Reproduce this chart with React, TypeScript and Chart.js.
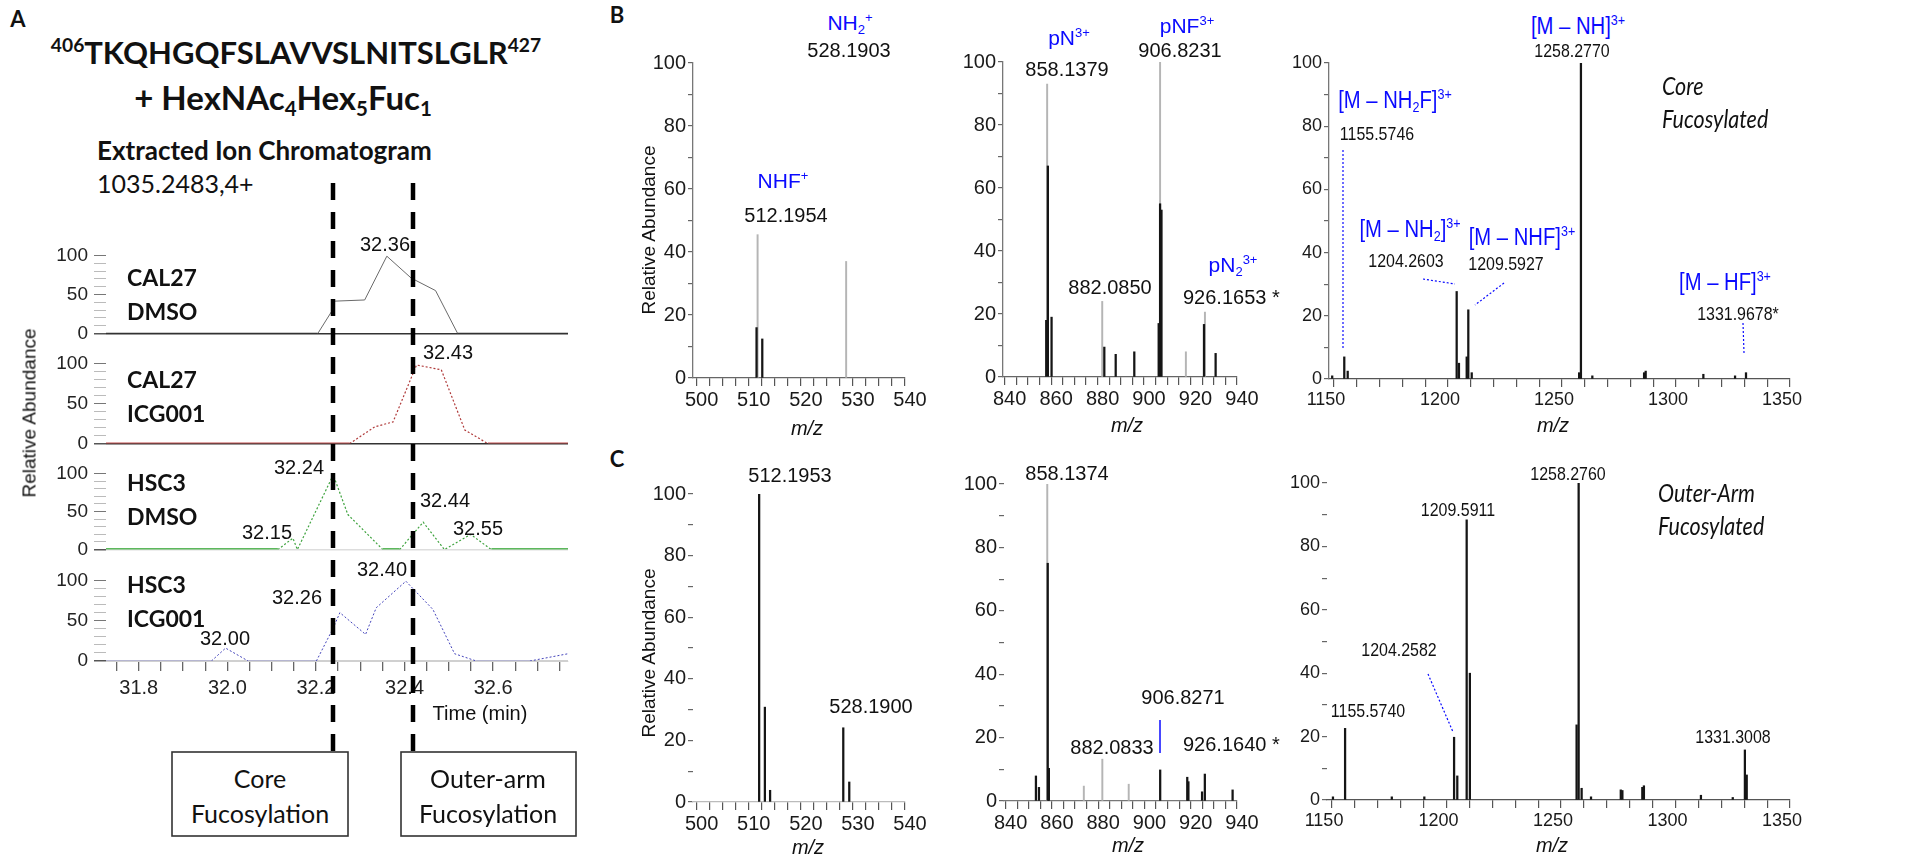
import React, { useEffect, useRef } from 'react';
import { Chart, registerables } from 'chart.js';

Chart.register(...registerables);

const SANS = '"Liberation Sans", Arial, Helvetica, sans-serif';
const CAL = 'Lato, "Open Sans", sans-serif';
const BLUE = '#0a0aff';

// ---------------- Panel A: extracted ion chromatograms ----------------
const timeAxisMin = 31.726;
const timeAxisMax = 32.769;
const timeTickLabels = ['31.8', '32.0', '32.2', '32.4', '32.6'];
const chromYLabels = [0, 50, 100];

const cal27DmsoTime = [31.726, 32.204, 32.235, 32.242, 32.31, 32.36, 32.415, 32.47, 32.52, 32.769];
const cal27DmsoAbund = [0, 0, 28, 41.5, 43, 99, 71, 55, 0, 0];

const cal27IcgTime = [31.726, 32.276, 32.333, 32.374, 32.427, 32.483, 32.536, 32.588, 32.769];
const cal27IcgAbund = [0, 0, 21, 27, 98, 92, 17, 0, 0];

const hsc3DmsoTime = [31.726, 32.114, 32.148, 32.158, 32.239, 32.272, 32.351, 32.389, 32.442, 32.49, 32.549, 32.596, 32.769];
const hsc3DmsoAbund = [0, 0, 15, 0, 98, 46, 0, 0, 36, 0, 20, 0, 0];

const hsc3IcgTime = [31.726, 31.964, 31.996, 32.047, 32.201, 32.239, 32.254, 32.312, 32.336, 32.403, 32.464, 32.513, 32.562, 32.683, 32.769];
const hsc3IcgAbund = [0, 0, 16, 0, 0, 41, 60, 33, 66, 99, 64, 9, 0, 0, 9];

// ---------------- Panels B / C: MS/MS spectra ----------------
const specYLabels = [0, 20, 40, 60, 80, 100];
const lowMzTicks = [500, 510, 520, 530, 540];
const midMzTicks = [840, 860, 880, 900, 920, 940];
const highMzTicks = [1150, 1200, 1250, 1300, 1350];

// B, 500-540 (core fucosylated)
const b1GrayMz = [511.7, 528.7];
const b1GrayAb = [45.5, 37];
const b1BlackMz = [511.5, 512.6];
const b1BlackAb = [16, 12.4];

// B, 840-940
const b2GrayMz = [858.3, 882.0, 906.9, 918.0, 926.2];
const b2GrayAb = [93, 24, 100, 8, 20.6];
const b2BlackMz = [858.6, 857.9, 860.2, 882.9, 887.8, 895.8, 906.9, 907.5, 906.3, 925.8, 930.8];
const b2BlackAb = [67, 18, 19, 9.5, 7.2, 8, 55, 53, 17, 16.7, 7.5];

// B, 1150-1350
const b3GrayMz: number[] = [];
const b3GrayAb: number[] = [];
const b3BlackMz = [1149.2, 1154.5, 1156.0, 1203.8, 1204.8, 1208.2, 1208.9, 1210.4, 1258.3, 1257.5, 1263.3, 1286.0, 1286.7, 1312.0, 1325.9, 1330.7];
const b3BlackAb = [1, 7, 2.5, 27.7, 5, 7, 21.9, 2, 100, 2, 1, 2, 2.5, 1.5, 1, 2];

// C, 500-540 (outer-arm fucosylated)
const c1GrayMz: number[] = [];
const c1GrayAb: number[] = [];
const c1BlackMz = [512.0, 513.1, 514.1, 528.15, 529.3];
const c1BlackAb = [100, 30.8, 3.8, 24.1, 6.5];

// C, 840-940
const c2GrayMz = [858.0, 873.8, 881.8, 893.2];
const c2GrayAb = [100, 4.7, 13.2, 5.3];
const c2BlackMz = [858.2, 858.7, 853.1, 854.4, 906.8, 918.5, 919.0, 924.9, 926.1, 938.1];
const c2BlackAb = [75, 10.3, 7.9, 4.3, 9.8, 7.5, 6.1, 2.9, 8.5, 3.5];

// C, 1150-1350
const c3GrayMz: number[] = [];
const c3GrayAb: number[] = [];
const c3BlackMz = [1150.4, 1155.7, 1176.1, 1190.3, 1203.3, 1204.7, 1208.8, 1210.2, 1256.8, 1257.7, 1259.0, 1263.1, 1276.1, 1276.8, 1285.5, 1286.2, 1311.1, 1325.0, 1330.3, 1331.1];
const c3BlackAb = [1, 22.6, 1, 1, 19.8, 7.6, 88.4, 40, 23.7, 100, 3.7, 1, 3.2, 3, 4, 4.5, 1.5, 0.8, 15.8, 7.9];

// ---------------- layout helpers ----------------
type Area = { left: number; top: number; right: number; bottom: number };
type Box = { left: number; top: number; width: number; height: number };

const CH_YW = 106, CH_PT = 14, CH_PR = 20, CH_PB = 14, CH_XH = 45;
const SP_YW = 60, SP_PT = 14, SP_PR = 34, SP_XH = 40;

function chromBox(a: Area, showX: boolean): Box {
  return {
    left: a.left - CH_YW,
    top: a.top - CH_PT,
    width: a.right - a.left + CH_YW + CH_PR,
    height: CH_PT + (a.bottom - a.top) + (showX ? CH_XH : CH_PB),
  };
}
function specBox(a: Area): Box {
  return {
    left: a.left - SP_YW,
    top: a.top - SP_PT,
    width: a.right - a.left + SP_YW + SP_PR,
    height: SP_PT + (a.bottom - a.top) + SP_XH,
  };
}

type TraceStyle = { color: string; width: number; dash: number[]; flatColor: string; flatWidth: number; base: string };

function chromConfig(times: number[], vals: number[], st: TraceStyle, showX: boolean): any {
  const flat = (c: any) => c.p0.parsed.y === 0 && c.p1.parsed.y === 0;
  return {
    type: 'line',
    data: {
      datasets: [
        {
          data: times.map((t, i) => ({ x: t, y: vals[i] })),
          borderColor: st.color,
          borderWidth: st.width,
          borderDash: st.dash,
          pointRadius: 0,
          tension: 0,
          fill: false,
          segment: {
            borderColor: (c: any) => (flat(c) ? st.flatColor : st.color),
            borderWidth: (c: any) => (flat(c) ? st.flatWidth : st.width),
            borderDash: (c: any) => (flat(c) ? [] : st.dash),
          },
        },
      ],
    },
    options: {
      responsive: false,
      animation: false,
      events: [],
      layout: { padding: { left: 0, right: CH_PR, top: CH_PT, bottom: showX ? 0 : CH_PB } },
      plugins: { legend: { display: false }, tooltip: { enabled: false } },
      scales: {
        x: {
          type: 'linear',
          min: timeAxisMin,
          max: timeAxisMax,
          display: showX,
          offset: false,
          border: { display: true, color: st.base, width: 1 },
          grid: { offset: false, drawOnChartArea: false, drawTicks: true, tickLength: 10, tickColor: '#666', lineWidth: 1.3 },
          ticks: {
            stepSize: 0.05,
            autoSkip: false,
            maxRotation: 0,
            includeBounds: false,
            maxTicksLimit: 1000,
            padding: 5,
            color: '#222',
            font: { size: 20, family: SANS },
            callback: (v: number) => {
              const s = v.toFixed(1);
              return Math.round(v * 20) % 4 === 0 && timeTickLabels.includes(s) ? s : '';
            },
          },
          afterFit: (s: any) => {
            if (showX) s.height = CH_XH;
          },
        },
        y: {
          min: 0,
          max: 100,
          border: { display: false },
          grid: {
            color: (c: any) => (c.tick && c.tick.value === 0 ? st.base : 'rgba(0,0,0,0)'),
            lineWidth: (c: any) => (c.tick && c.tick.value === 0 ? 1.5 : 1),
            tickLength: 12,
            tickColor: (c: any) => (c.tick && c.tick.value === 0 ? '#555' : c.tick && c.tick.value % 50 === 0 ? '#777' : '#bbb'),
          },
          ticks: {
            stepSize: 10,
            autoSkip: false,
            maxTicksLimit: 1000,
            padding: 6,
            color: '#222',
            font: { size: 19, family: SANS },
            callback: (v: number) => (chromYLabels.includes(v) ? String(v) : ''),
          },
          afterFit: (s: any) => {
            s.width = CH_YW;
          },
        },
      },
    },
  };
}

type SpecSpec = {
  xMin: number;
  xMax: number;
  step: number;
  labels: number[];
  labelOffset: number;
  fontSize: number;
  grayMz: number[];
  grayAb: number[];
  blackMz: number[];
  blackAb: number[];
  yBorder: boolean;
  xBorder: string;
};

function specConfig(s: SpecSpec): any {
  return {
    type: 'bar',
    data: {
      datasets: [
        {
          data: s.grayMz.map((x, i) => ({ x, y: s.grayAb[i] })),
          backgroundColor: '#b5b5b5',
          barThickness: 1.3,
          grouped: false,
          order: 2,
        },
        {
          data: s.blackMz.map((x, i) => ({ x, y: s.blackAb[i] })),
          backgroundColor: '#151515',
          barThickness: 1.6,
          grouped: false,
          order: 1,
        },
      ],
    },
    options: {
      responsive: false,
      animation: false,
      events: [],
      layout: { padding: { left: 0, right: SP_PR, top: SP_PT, bottom: 0 } },
      plugins: { legend: { display: false }, tooltip: { enabled: false } },
      scales: {
        x: {
          type: 'linear',
          min: s.xMin,
          max: s.xMax,
          offset: false,
          border: { display: true, color: s.xBorder, width: 1.3 },
          grid: { offset: false, drawOnChartArea: false, drawTicks: true, tickLength: 8, tickColor: '#555', lineWidth: 1.2 },
          ticks: {
            stepSize: s.step,
            autoSkip: false,
            maxRotation: 0,
            includeBounds: false,
            maxTicksLimit: 1000,
            padding: 2,
            labelOffset: s.labelOffset,
            color: '#1a1a1a',
            font: { size: s.fontSize, family: SANS },
            callback: (v: number) => {
              const r = Math.round(v * 10) / 10;
              return s.labels.includes(r) ? String(r) : '';
            },
          },
          afterFit: (sc: any) => {
            sc.height = SP_XH;
          },
        },
        y: {
          min: 0,
          max: 100,
          border: { display: s.yBorder, color: '#777', width: 1.3 },
          grid: { drawOnChartArea: false, drawTicks: true, tickLength: 5, tickColor: '#666', lineWidth: 1.2 },
          ticks: {
            stepSize: 10,
            autoSkip: false,
            maxTicksLimit: 1000,
            padding: 2,
            color: '#1a1a1a',
            font: { size: s.fontSize, family: SANS },
            callback: (v: number) => (specYLabels.includes(v) ? String(v) : ''),
          },
          afterFit: (sc: any) => {
            sc.width = SP_YW;
          },
        },
      },
    },
  };
}

function ChartCanvas({ box, make }: { box: Box; make: () => any }) {
  const ref = useRef<HTMLCanvasElement>(null);
  useEffect(() => {
    const chart = new Chart(ref.current as HTMLCanvasElement, make());
    return () => chart.destroy();
  }, []);
  return (
    <canvas
      ref={ref}
      width={box.width}
      height={box.height}
      style={{ position: 'absolute', left: box.left, top: box.top, width: box.width, height: box.height }}
    />
  );
}

// ---------------- text helpers ----------------
function T(props: {
  x: number;
  y: number;
  size: number;
  children: any;
  bold?: boolean;
  italic?: boolean;
  color?: string;
  family?: string;
  align?: 'left' | 'center' | 'right';
  rotate?: boolean;
  sx?: number;
}) {
  const { x, y, size, children, bold, italic, color = '#111', family = SANS, align = 'center', rotate, sx } = props;
  const tx = align === 'center' ? '-50%' : align === 'right' ? '-100%' : '0';
  const origin = align === 'left' ? 'left center' : align === 'right' ? 'right center' : 'center center';
  return (
    <div
      style={{
        position: 'absolute',
        left: x,
        top: y,
        transform: `translate(${tx}, -50%)${rotate ? ' rotate(-90deg)' : ''}${sx ? ` scaleX(${sx})` : ''}`,
        transformOrigin: origin,
        fontSize: size,
        fontWeight: bold ? 700 : 400,
        fontStyle: italic ? 'italic' : 'normal',
        color,
        fontFamily: family,
        lineHeight: 1,
        whiteSpace: 'nowrap',
      }}
    >
      {children}
    </div>
  );
}
const Sup = ({ children }: { children: any }) => (
  <span style={{ fontSize: '0.62em', position: 'relative', top: '-0.6em' }}>{children}</span>
);
const Sub = ({ children }: { children: any }) => (
  <span style={{ fontSize: '0.62em', position: 'relative', top: '0.3em' }}>{children}</span>
);

// ---------------- chart areas ----------------
const aP1: Area = { left: 106, right: 568, top: 252, bottom: 337 };
const aP2: Area = { left: 106, right: 568, top: 360, bottom: 447 };
const aP3: Area = { left: 106, right: 568, top: 470, bottom: 553 };
const aP4: Area = { left: 106, right: 568, top: 577, bottom: 661 };

const aB1: Area = { left: 693, right: 905, top: 63, bottom: 378 };
const aB2: Area = { left: 1003, right: 1237, top: 62, bottom: 377 };
const aB3: Area = { left: 1329, right: 1790, top: 63, bottom: 379 };
const aC1: Area = { left: 693, right: 905, top: 494, bottom: 802 };
const aC2: Area = { left: 1004, right: 1237, top: 484, bottom: 801 };
const aC3: Area = { left: 1327, right: 1790, top: 483, bottom: 800 };

const styleP1: TraceStyle = { color: '#6a6a6a', width: 1, dash: [], flatColor: '#333', flatWidth: 1.5, base: '#333' };
const styleP2: TraceStyle = { color: '#b03a3a', width: 1.2, dash: [2, 2], flatColor: '#c24f4f', flatWidth: 2, base: '#333' };
const styleP3: TraceStyle = { color: '#3fa33f', width: 1.2, dash: [2, 2], flatColor: '#5cb85c', flatWidth: 3, base: '#ddd' };
const styleP4: TraceStyle = { color: '#4444bb', width: 1, dash: [2, 2], flatColor: 'rgba(110,110,210,0.55)', flatWidth: 1, base: '#d0d0d0' };

const lowRange = { xMin: 499.3, xMax: 540, step: 2.5, labels: lowMzTicks, labelOffset: 5, fontSize: 20 };
const midRange = { xMin: 839.3, xMax: 940, step: 5, labels: midMzTicks, labelOffset: 5, fontSize: 20 };
const highRange = { xMin: 1147.8, xMax: 1350, step: 10, labels: highMzTicks, labelOffset: -8, fontSize: 18 };

const NSX = 0.84; // horizontal compression of the right-hand spectra's texts
const BSX = 0.88;

export default function App() {
  useEffect(() => {
    document.body.style.margin = '0';
  }, []);

  const dotted = { stroke: BLUE, strokeWidth: 1.2, strokeDasharray: '2 2', fill: 'none' };

  return (
    <div style={{ position: 'absolute', left: 0, top: 0, width: 1927, height: 860, background: '#fff', overflow: 'hidden' }}>
      {/* Panel A charts */}
      <ChartCanvas box={chromBox(aP1, false)} make={() => chromConfig(cal27DmsoTime, cal27DmsoAbund, styleP1, false)} />
      <ChartCanvas box={chromBox(aP2, false)} make={() => chromConfig(cal27IcgTime, cal27IcgAbund, styleP2, false)} />
      <ChartCanvas box={chromBox(aP3, false)} make={() => chromConfig(hsc3DmsoTime, hsc3DmsoAbund, styleP3, false)} />
      <ChartCanvas box={chromBox(aP4, true)} make={() => chromConfig(hsc3IcgTime, hsc3IcgAbund, styleP4, true)} />

      {/* Panel B / C spectra */}
      <ChartCanvas box={specBox(aB1)} make={() => specConfig({ ...lowRange, grayMz: b1GrayMz, grayAb: b1GrayAb, blackMz: b1BlackMz, blackAb: b1BlackAb, yBorder: true, xBorder: '#666' })} />
      <ChartCanvas box={specBox(aB2)} make={() => specConfig({ ...midRange, grayMz: b2GrayMz, grayAb: b2GrayAb, blackMz: b2BlackMz, blackAb: b2BlackAb, yBorder: true, xBorder: '#666' })} />
      <ChartCanvas box={specBox(aB3)} make={() => specConfig({ ...highRange, grayMz: b3GrayMz, grayAb: b3GrayAb, blackMz: b3BlackMz, blackAb: b3BlackAb, yBorder: true, xBorder: '#555' })} />
      <ChartCanvas box={specBox(aC1)} make={() => specConfig({ ...lowRange, grayMz: c1GrayMz, grayAb: c1GrayAb, blackMz: c1BlackMz, blackAb: c1BlackAb, yBorder: false, xBorder: '#bbb' })} />
      <ChartCanvas box={specBox(aC2)} make={() => specConfig({ ...midRange, grayMz: c2GrayMz, grayAb: c2GrayAb, blackMz: c2BlackMz, blackAb: c2BlackAb, yBorder: false, xBorder: '#777' })} />
      <ChartCanvas box={specBox(aC3)} make={() => specConfig({ ...highRange, grayMz: c3GrayMz, grayAb: c3GrayAb, blackMz: c3BlackMz, blackAb: c3BlackAb, yBorder: false, xBorder: '#555' })} />

      {/* Panel A texts */}
      <T x={18} y={19} size={22} bold family={CAL}>A</T>
      <T x={296} y={52} size={31} bold family={CAL}>
        <Sup>406</Sup>TKQHGQFSLAVVSLNITSLGLR<Sup>427</Sup>
      </T>
      <T x={283} y={97} size={33} bold family={CAL}>
        + HexNAc<Sub>4</Sub>Hex<Sub>5</Sub>Fuc<Sub>1</Sub>
      </T>
      <T x={97} y={150} size={26} bold family={CAL} align="left">Extracted Ion Chromatogram</T>
      <T x={97} y={183} size={25} family={CAL} align="left">1035.2483,4+</T>
      <T x={29} y={413} size={19} rotate>Relative Abundance</T>

      <T x={127} y={277} size={23} bold family={CAL} align="left">CAL27</T>
      <T x={127} y={311} size={23} bold family={CAL} align="left">DMSO</T>
      <T x={127} y={379} size={23} bold family={CAL} align="left">CAL27</T>
      <T x={127} y={413} size={23} bold family={CAL} align="left">ICG001</T>
      <T x={127} y={482} size={23} bold family={CAL} align="left">HSC3</T>
      <T x={127} y={516} size={23} bold family={CAL} align="left">DMSO</T>
      <T x={127} y={584} size={23} bold family={CAL} align="left">HSC3</T>
      <T x={127} y={618} size={23} bold family={CAL} align="left">ICG001</T>

      <T x={385} y={244} size={20}>32.36</T>
      <T x={448} y={352} size={20}>32.43</T>
      <T x={299} y={467} size={20}>32.24</T>
      <T x={267} y={532} size={20}>32.15</T>
      <T x={445} y={500} size={20}>32.44</T>
      <T x={478} y={528} size={20}>32.55</T>
      <T x={382} y={569} size={20}>32.40</T>
      <T x={297} y={597} size={20}>32.26</T>
      <T x={225} y={638} size={20}>32.00</T>
      <T x={480} y={713} size={20}>Time (min)</T>

      <T x={260} y={778} size={25} family={CAL}>Core</T>
      <T x={260} y={813} size={25} family={CAL}>Fucosylation</T>
      <T x={488} y={778} size={25} family={CAL}>Outer-arm</T>
      <T x={488} y={813} size={25} family={CAL}>Fucosylation</T>

      {/* Panel B texts */}
      <T x={617} y={15} size={22} bold family={CAL}>B</T>
      <T x={648} y={230} size={19} rotate>Relative Abundance</T>
      <T x={850} y={22} size={21} color={BLUE}>NH<Sub>2</Sub><Sup>+</Sup></T>
      <T x={849} y={50} size={20}>528.1903</T>
      <T x={783} y={180} size={21} color={BLUE}>NHF<Sup>+</Sup></T>
      <T x={786} y={215} size={20}>512.1954</T>
      <T x={807} y={428} size={20} italic>m/z</T>

      <T x={1069} y={37} size={21} color={BLUE}>pN<Sup>3+</Sup></T>
      <T x={1067} y={69} size={20}>858.1379</T>
      <T x={1187} y={25} size={21} color={BLUE}>pNF<Sup>3+</Sup></T>
      <T x={1180} y={50} size={20}>906.8231</T>
      <T x={1110} y={287} size={20}>882.0850</T>
      <T x={1233} y={264} size={21} color={BLUE}>pN<Sub>2</Sub><Sup>3+</Sup></T>
      <T x={1183} y={297} size={20} align="left">926.1653 *</T>
      <T x={1127} y={425} size={20} italic>m/z</T>

      <T x={1578} y={26} size={23} color={BLUE} sx={BSX}>[M – NH]<Sup>3+</Sup></T>
      <T x={1572} y={50} size={19} sx={NSX}>1258.2770</T>
      <T x={1395} y={100} size={23} color={BLUE} sx={BSX}>[M – NH<Sub>2</Sub>F]<Sup>3+</Sup></T>
      <T x={1377} y={133} size={19} sx={NSX}>1155.5746</T>
      <T x={1410} y={229} size={23} color={BLUE} sx={BSX}>[M – NH<Sub>2</Sub>]<Sup>3+</Sup></T>
      <T x={1406} y={260} size={19} sx={NSX}>1204.2603</T>
      <T x={1522} y={237} size={23} color={BLUE} sx={BSX}>[M – NHF]<Sup>3+</Sup></T>
      <T x={1506} y={263} size={19} sx={NSX}>1209.5927</T>
      <T x={1725} y={282} size={23} color={BLUE} sx={BSX}>[M – HF]<Sup>3+</Sup></T>
      <T x={1738} y={313} size={19} sx={NSX}>1331.9678*</T>
      <T x={1662} y={85} size={25} italic family={CAL} align="left" sx={0.86}>Core</T>
      <T x={1662} y={118} size={25} italic family={CAL} align="left" sx={0.86}>Fucosylated</T>
      <T x={1553} y={425} size={20} italic>m/z</T>

      {/* Panel C texts */}
      <T x={617} y={459} size={22} bold family={CAL}>C</T>
      <T x={648} y={653} size={19} rotate>Relative Abundance</T>
      <T x={790} y={475} size={20}>512.1953</T>
      <T x={871} y={706} size={20}>528.1900</T>
      <T x={808} y={847} size={20} italic>m/z</T>

      <T x={1067} y={473} size={20}>858.1374</T>
      <T x={1183} y={697} size={20}>906.8271</T>
      <T x={1112} y={747} size={20}>882.0833</T>
      <T x={1183} y={744} size={20} align="left">926.1640 *</T>
      <T x={1128} y={845} size={20} italic>m/z</T>

      <T x={1568} y={473} size={19} sx={NSX}>1258.2760</T>
      <T x={1458} y={509} size={19} sx={NSX}>1209.5911</T>
      <T x={1399} y={649} size={19} sx={NSX}>1204.2582</T>
      <T x={1368} y={710} size={19} sx={NSX}>1155.5740</T>
      <T x={1733} y={736} size={19} sx={NSX}>1331.3008</T>
      <T x={1658} y={492} size={25} italic family={CAL} align="left" sx={0.86}>Outer-Arm</T>
      <T x={1658} y={525} size={25} italic family={CAL} align="left" sx={0.86}>Fucosylated</T>
      <T x={1552} y={845} size={20} italic>m/z</T>

      {/* annotation lines & boxes */}
      <svg width={1927} height={860} style={{ position: 'absolute', left: 0, top: 0, pointerEvents: 'none' }}>
        <line x1={333} y1={183} x2={333} y2={752} stroke="#000" strokeWidth={4.5} strokeDasharray="17 12" />
        <line x1={413} y1={183} x2={413} y2={752} stroke="#000" strokeWidth={4.5} strokeDasharray="17 12" />
        <rect x={172} y={752} width={176} height={84} fill="none" stroke="#333" strokeWidth={1.6} />
        <rect x={401} y={752} width={175} height={84} fill="none" stroke="#333" strokeWidth={1.6} />

        <line x1={1343} y1={150} x2={1343} y2={348} {...dotted} />
        <line x1={1423} y1={279} x2={1455} y2={284} {...dotted} />
        <line x1={1504} y1={283} x2={1475} y2={305} {...dotted} />
        <line x1={1743} y1={323} x2={1744} y2={353} {...dotted} />

        <line x1={1160} y1={720} x2={1160} y2={753} stroke={BLUE} strokeWidth={1.5} />
        <line x1={1428} y1={674} x2={1453} y2={732} {...dotted} />
      </svg>
    </div>
  );
}
